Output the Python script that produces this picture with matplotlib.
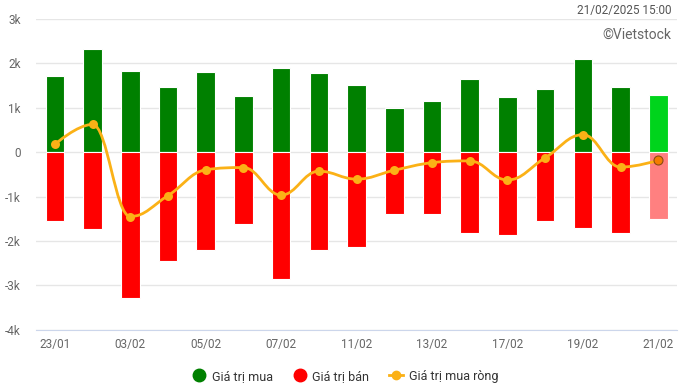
import matplotlib
matplotlib.use("Agg")
import matplotlib.pyplot as plt
import numpy as np
from matplotlib.path import Path
from matplotlib.patches import PathPatch
from matplotlib.lines import Line2D

plt.rcParams['font.family'] = ['Roboto', 'DejaVu Sans']

dates = ["23/01", "24/01", "03/02", "04/02", "05/02", "06/02", "07/02", "10/02", "11/02",
         "12/02", "13/02", "14/02", "17/02", "18/02", "19/02", "20/02", "21/02"]
buy = [1.70, 2.31, 1.81, 1.47, 1.79, 1.25, 1.88, 1.77, 1.50, 0.98, 1.14, 1.63, 1.23, 1.41, 2.08, 1.47, 1.29]
sell = [-1.54, -1.72, -3.27, -2.46, -2.21, -1.62, -2.85, -2.20, -2.13, -1.39, -1.39, -1.83, -1.87, -1.54, -1.70, -1.83, -1.50]
net = [0.17, 0.62, -1.45, -0.98, -0.40, -0.35, -0.97, -0.43, -0.61, -0.41, -0.24, -0.20, -0.63, -0.13, 0.39, -0.34, -0.19]
yticks = [-4, -3, -2, -1, 0, 1, 2, 3]
ytick_labels = ["-4k", "-3k", "-2k", "-1k", "0", "1k", "2k", "3k"]

GREEN = "#008000"
RED = "#ff0000"
LINE = "#fbb116"

fig = plt.figure(figsize=(6.84, 3.89), dpi=100)
ax = fig.add_axes([0.0526, 0.1517, 0.9374, 0.8007])

x = np.arange(len(dates))
n = len(dates)
buy_colors = [GREEN] * (n - 1) + ["#00d41c"]
sell_colors = [RED] * (n - 1) + ["#ff8080"]
ax.bar(x, buy, width=0.49, color=buy_colors, edgecolor="white", linewidth=0.8, zorder=2)
ax.bar(x, sell, width=0.49, color=sell_colors, edgecolor="white", linewidth=0.8, zorder=2)


def spline_controls(xs, ys, smoothing=1.5):
    """Highcharts-style spline control points for each point."""
    m = len(xs)
    left = [None] * m
    right = [None] * m
    denom = smoothing + 1
    for i in range(m):
        px, py = xs[i], ys[i]
        if i == 0 or i == m - 1:
            left[i] = (px, py)
            right[i] = (px, py)
            continue
        lx0, ly0 = xs[i - 1], ys[i - 1]
        nx0, ny0 = xs[i + 1], ys[i + 1]
        lcx = (smoothing * px + lx0) / denom
        lcy = (smoothing * py + ly0) / denom
        rcx = (smoothing * px + nx0) / denom
        rcy = (smoothing * py + ny0) / denom
        corr = 0.0
        if rcx != lcx:
            corr = ((rcy - lcy) * (rcx - px)) / (rcx - lcx) + py - rcy
        lcy += corr
        rcy += corr
        if lcy > ly0 and lcy > py:
            lcy = max(ly0, py)
            rcy = 2 * py - lcy
        elif lcy < ly0 and lcy < py:
            lcy = min(ly0, py)
            rcy = 2 * py - lcy
        if rcy > ny0 and rcy > py:
            rcy = max(ny0, py)
            lcy = 2 * py - rcy
        elif rcy < ny0 and rcy < py:
            rcy = min(ny0, py)
            lcy = 2 * py - rcy
        left[i] = (lcx, lcy)
        right[i] = (rcx, rcy)
    return left, right


xs = [float(v) for v in x]
left, right = spline_controls(xs, net)
verts = [(xs[0], net[0])]
codes = [Path.MOVETO]
for i in range(1, n):
    verts += [right[i - 1], left[i], (xs[i], net[i])]
    codes += [Path.CURVE4] * 3
ax.add_patch(PathPatch(Path(verts, codes), fill=False, edgecolor=LINE, linewidth=2, zorder=3))
ax.scatter(x[:-1], net[:-1], s=42, color=LINE, zorder=4, linewidths=0)
ax.scatter(x[-1:], net[-1:], s=42, color="#f57c00", edgecolor="#8a4a10", linewidths=0.8, zorder=4)

ax.set_xlim(-0.5, n - 0.5)
ax.set_ylim(-4, 3)
ax.set_yticks(yticks)
ax.set_yticklabels(ytick_labels)
ax.set_xticks(x[::2])
ax.set_xticklabels(dates[::2])
ax.grid(axis="y", color="#e6e6e6", linewidth=1, zorder=0)
ax.set_axisbelow(True)
for s in ["top", "right", "left"]:
    ax.spines[s].set_visible(False)
ax.spines["bottom"].set_color("#ccd6eb")
ax.tick_params(axis="both", length=0, labelsize=8.5, colors="#666666")
ax.tick_params(axis="y", pad=11)
ax.tick_params(axis="x", pad=6)

fig.text(0.982, 0.972, "21/02/2025 15:00", ha="right", va="center", fontsize=8.5, color="#555555")
fig.text(0.982, 0.91, "©Vietstock", ha="right", va="center", fontsize=10, color="#666666")

handles = [
    Line2D([], [], marker="o", linestyle="none", markersize=9, color=GREEN),
    Line2D([], [], marker="o", linestyle="none", markersize=9, color=RED),
    Line2D([], [], marker="o", linestyle="-", markersize=6, color=LINE, linewidth=2),
]
fig.legend(handles, ["Giá trị mua", "Giá trị bán", "Giá trị mua ròng"], loc="center",
           bbox_to_anchor=(0.505, 0.033), ncol=3, frameon=False, fontsize=9,
           handlelength=1.1, columnspacing=1.6, handletextpad=0.45, labelcolor="#333333")

fig.savefig("out.png", dpi=100)
